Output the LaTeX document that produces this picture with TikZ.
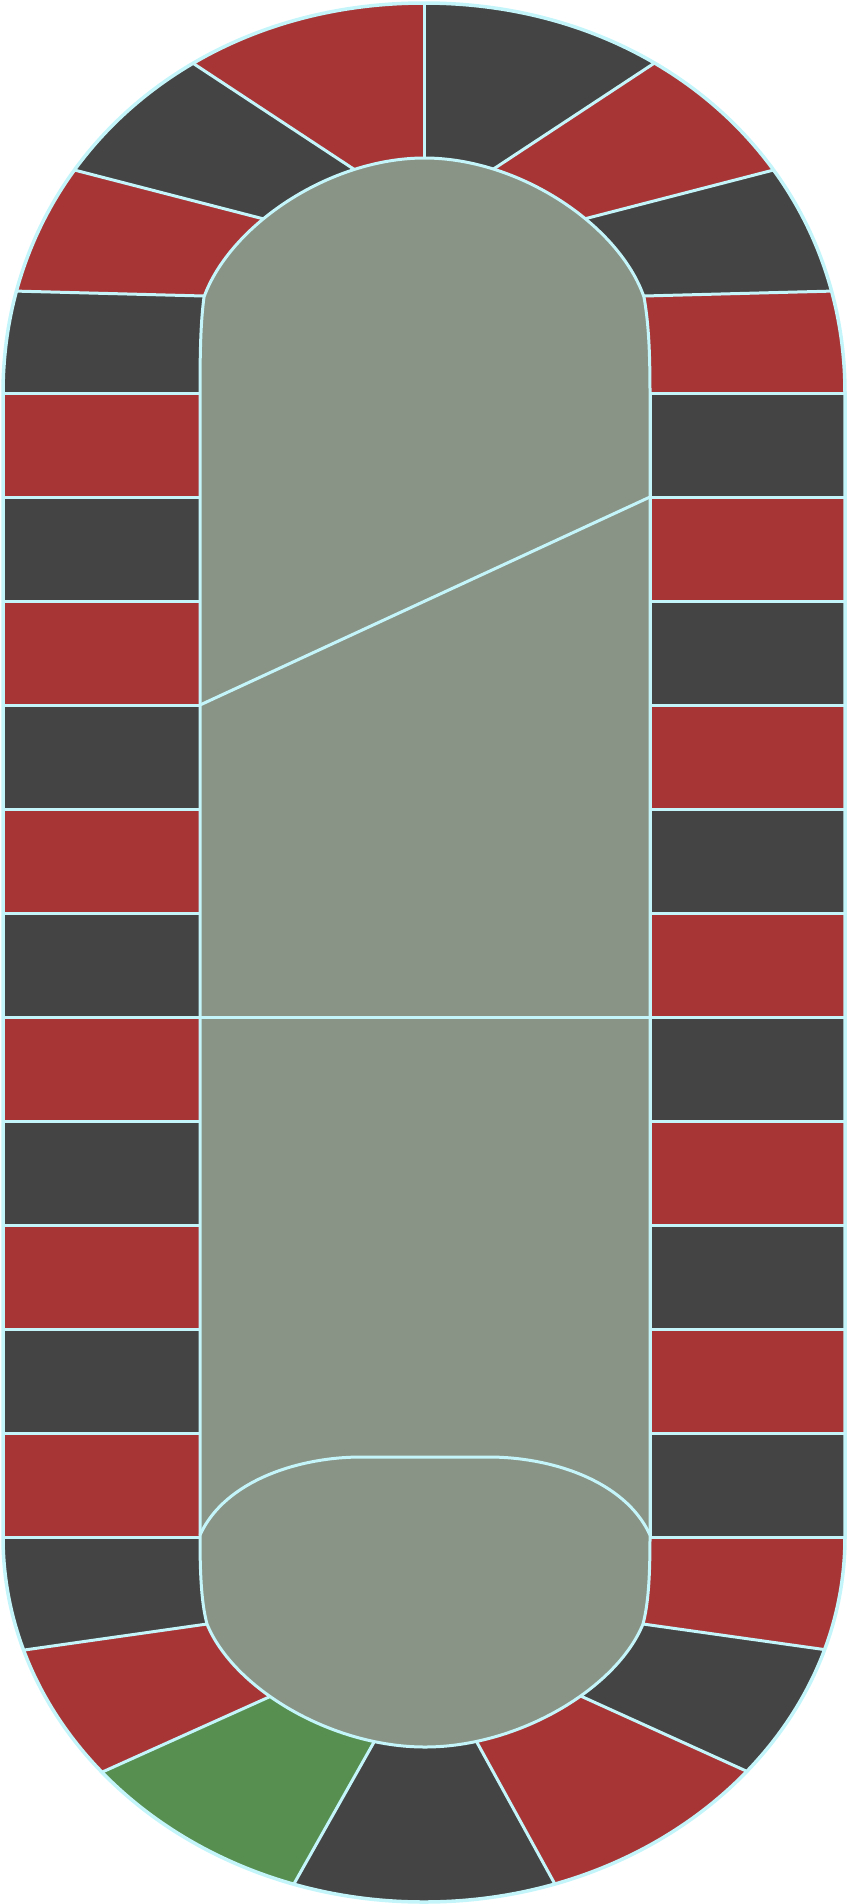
\documentclass[tikz,border=0pt]{standalone}
\usepackage{xcolor}
\usepackage{tikz}
\usetikzlibrary{calc}

\definecolor{cellred}{RGB}{168,53,54}
\definecolor{celldark}{RGB}{68,68,68}
\definecolor{cellgreen}{RGB}{87,143,81}
\definecolor{felt}{RGB}{138,148,134}
\definecolor{rim}{RGB}{196,245,250}

\newcommand{\trackouter}{(3,393) -- (3,1537) .. controls (3,1739) and (191.5,1902) .. (424,1902) .. controls (656.5,1902) and (845,1739) .. (845,1537) -- (845,393) .. controls (845,171) and (664,3) .. (424,3) .. controls (184,3) and (3,171) .. (3,393) -- cycle}
\newcommand{\trackinner}{(200,393) -- (200,1537) .. controls (200,1580) and (202,1605) .. (207,1624) .. controls (233,1688) and (331,1747) .. (425,1747) .. controls (519,1747) and (617,1688) .. (643,1624) .. controls (648,1605) and (650,1580) .. (650,1537) -- (650,393) .. controls (650,345) and (648,320) .. (644,297) .. controls (619,225) and (519,158) .. (424.5,158) .. controls (330,158) and (230,225) .. (204,297) .. controls (201,320) and (200,345) .. (200,393) -- cycle}

\begin{document}
\begin{tikzpicture}[
  x=1pt, y=-1pt,
  sep/.style={draw=rim, line width=3pt},
  rimline/.style={draw=rim, line width=3.5pt, line join=round}
]
\useasboundingbox (0,0) rectangle (848,1904);

% spokes of the two bends: inner end, outer end
\coordinate (tl3i) at (204,296);     \coordinate (tl3o) at (12.5,291);
\coordinate (tl2i) at (260,218);     \coordinate (tl2o) at (70.5,169);
\coordinate (tl1i) at (351.6,167.7); \coordinate (tl1o) at (192.6,63);
\coordinate (tci) at (424,158);      \coordinate (tco) at (424,3);
\coordinate (tr1i) at (495.5,167.7); \coordinate (tr1o) at (654.5,63);
\coordinate (tr2i) at (588,218);     \coordinate (tr2o) at (777.5,169);
\coordinate (tr3i) at (644,296);     \coordinate (tr3o) at (835.5,291);
\coordinate (bl1i) at (207,1624);    \coordinate (bl1o) at (24.4,1650);
\coordinate (bl2i) at (269.7,1696.7);\coordinate (bl2o) at (103,1771.7);
\coordinate (bl3i) at (373.3,1743.3);\coordinate (bl3o) at (294.6,1882.7);
\coordinate (br3i) at (477.5,1743.3);\coordinate (br3o) at (554.5,1883.3);
\coordinate (br2i) at (582.2,1696.7);\coordinate (br2o) at (747.7,1771.7);
\coordinate (br1i) at (643,1624);    \coordinate (br1o) at (827.5,1650);
\foreach \s in {tl3,tl2,tl1,tc,tr1,tr2,tr3,bl1,bl2,bl3,br3,br2,br1}{
  \coordinate (\s-a) at ($(\s o)!1.3!(\s i)$);
  \coordinate (\s-b) at ($(\s i)!1.3!(\s o)$);
}

\begin{scope}
  \clip \trackouter;
  % top bend
  \fill[celldark] (300,393) -- (-60,393) -- (tl3-b) -- (tl3-a) -- cycle;
  \fill[cellred] (tl3-a) -- (tl3-b) -- (tl2-b) -- (tl2-a) -- cycle;
  \fill[celldark] (tl2-a) -- (tl2-b) -- (tl1-b) -- (tl1-a) -- cycle;
  \fill[cellred] (tl1-a) -- (tl1-b) -- (tc-b) -- (tc-a) -- cycle;
  \fill[celldark] (tc-a) -- (tc-b) -- (tr1-b) -- (tr1-a) -- cycle;
  \fill[cellred] (tr1-a) -- (tr1-b) -- (tr2-b) -- (tr2-a) -- cycle;
  \fill[celldark] (tr2-a) -- (tr2-b) -- (tr3-b) -- (tr3-a) -- cycle;
  \fill[cellred] (tr3-a) -- (tr3-b) -- (910,393) -- (550,393) -- cycle;
  % bottom bend
  \fill[celldark] (300,1537) -- (-60,1537) -- (bl1-b) -- (bl1-a) -- cycle;
  \fill[cellred] (bl1-a) -- (bl1-b) -- (bl2-b) -- (bl2-a) -- cycle;
  \fill[cellgreen] (bl2-a) -- (bl2-b) -- (bl3-b) -- (bl3-a) -- cycle;
  \fill[celldark] (bl3-a) -- (bl3-b) -- (br3-b) -- (br3-a) -- cycle;
  \fill[cellred] (br3-a) -- (br3-b) -- (br2-b) -- (br2-a) -- cycle;
  \fill[celldark] (br2-a) -- (br2-b) -- (br1-b) -- (br1-a) -- cycle;
  \fill[cellred] (br1-a) -- (br1-b) -- (910,1537) -- (550,1537) -- cycle;
  \foreach \s in {tl3,tl2,tl1,tc,tr1,tr2,tr3,bl1,bl2,bl3,br3,br2,br1}
    \draw[sep] (\s-a) -- (\s-b);
\end{scope}

% straight sides
\foreach \k in {0,2,...,10}{
  \draw[sep, fill=cellred] (3,{393+104*\k}) rectangle (200,{497+104*\k});
  \draw[sep, fill=celldark] (650,{393+104*\k}) rectangle (845,{497+104*\k});
}
\foreach \k in {1,3,...,9}{
  \draw[sep, fill=celldark] (3,{393+104*\k}) rectangle (200,{497+104*\k});
  \draw[sep, fill=cellred] (650,{393+104*\k}) rectangle (845,{497+104*\k});
}

% centre field
\draw[sep, fill=felt] \trackinner;
\coordinate (diagtop) at (650,497);
\coordinate (diagbot) at (200,705);
\coordinate (midl) at (200,1017);
\coordinate (midr) at (650,1017);
\draw[sep] (diagtop) -- (diagbot);
\draw[sep] (midl) -- (midr);
\draw[sep] (200,1535) .. controls (225,1480) and (300,1457) .. (361,1457) -- (489,1457) .. controls (550,1457) and (625,1480) .. (650,1535);

\draw[rimline] \trackouter;
\end{tikzpicture}
\end{document}
